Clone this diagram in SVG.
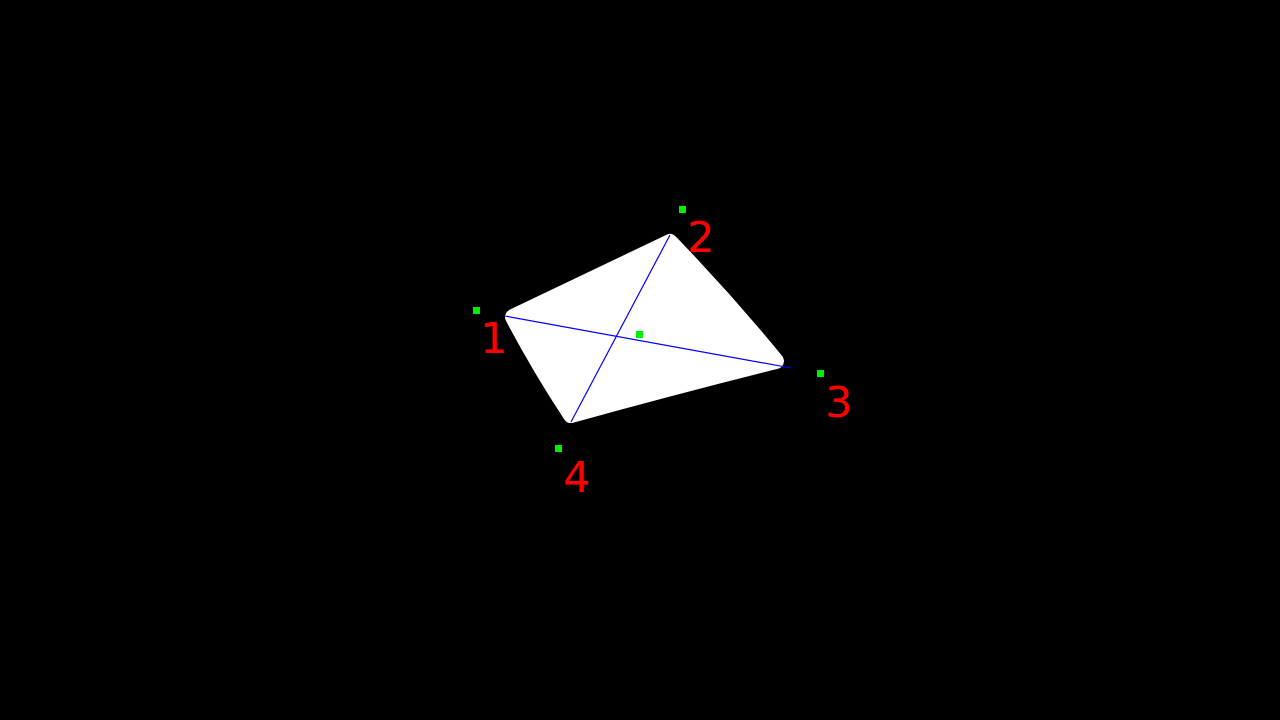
<svg xmlns="http://www.w3.org/2000/svg" width="1280" height="720" viewBox="0 0 1280 720">
<style>
.lbl{font-family:"DejaVu Sans",Verdana,sans-serif;font-size:43px;fill:#ff0000}
.pt{fill:#00ee00}
.diag{stroke:#0000ff;stroke-width:1.2;fill:none}
</style>
<rect width="1280" height="720" fill="#000"/>
<g id="shape">
<path d="M513,317 L670,242 Q726,300 776,361 Q676,386 571,415 Q540,368 513,317 Z" fill="#fff" stroke="#fff" stroke-width="16" stroke-linejoin="round"/>
</g>
<g id="connectors">
<line class="diag" x1="505" y1="316" x2="791" y2="368"/>
<line class="diag" x1="670" y1="235" x2="571" y2="422"/>
</g>
<g id="points">
<rect class="pt" x="473" y="307" width="7" height="7"/>
<rect class="pt" x="679" y="206" width="7" height="7"/>
<rect class="pt" x="817" y="370" width="7" height="7"/>
<rect class="pt" x="555" y="445" width="7" height="7"/>
<rect class="pt" x="636" y="331" width="7" height="7"/>
</g>
<g id="labels">
<text class="lbl" x="480" y="353">1</text>
<text class="lbl" x="687" y="252">2</text>
<text class="lbl" x="825" y="417">3</text>
<text class="lbl" x="563" y="492">4</text>
</g>
</svg>
